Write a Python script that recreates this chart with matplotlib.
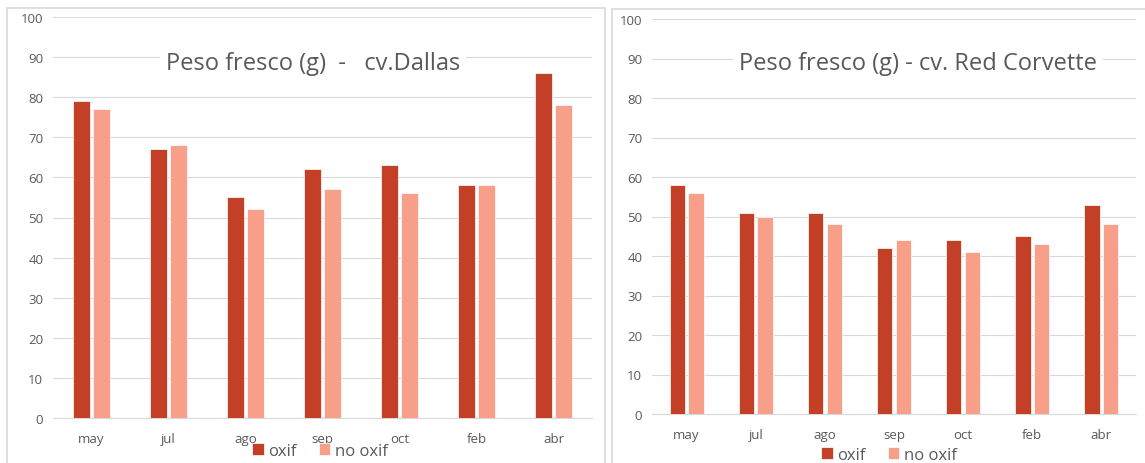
import matplotlib.pyplot as plt
import numpy as np
from matplotlib.patches import Rectangle

plt.rcParams['font.family'] = ['Open Sans', 'DejaVu Sans']

meses = ["may", "jul", "ago", "sep", "oct", "feb", "abr"]

# cv. Dallas
dallas_oxif = [79, 67, 55, 62, 63, 58, 86]
dallas_no_oxif = [77, 68, 52, 57, 56, 58, 78]

# cv. Red Corvette
corvette_oxif = [58, 51, 51, 42, 44, 45, 53]
corvette_no_oxif = [56, 50, 48, 44, 41, 43, 48]

c_oxif = "#C33F25"
c_no_oxif = "#F89F8A"
gris = "#595959"

fig = plt.figure(figsize=(11.45, 4.64), dpi=100)
W, H = 1145, 464


def px_box(x0, y0, x1, y1):
    # pixel box (top-left origin) to figure fraction
    return [x0 / W, (H - y1) / H, (x1 - x0) / W, (y1 - y0) / H]


# panel frames
for x0, y0, x1, y1 in [(7, 9, 605, 470), (612, 10, 1150, 470)]:
    b = px_box(x0, y0, x1, y1)
    fig.patches.append(Rectangle((b[0], b[1]), b[2], b[3], transform=fig.transFigure,
                                 fill=False, edgecolor="#D9D9D9", linewidth=1.2))


def grafico(box, oxif, no_oxif, titulo, title_xy, legend_xy):
    ax = fig.add_axes(px_box(*box))
    x = np.arange(len(meses))
    w = 0.22
    ax.bar(x - 0.135, oxif, w, color=c_oxif, edgecolor="white", linewidth=0.5, label="oxif", zorder=3)
    ax.bar(x + 0.135, no_oxif, w, color=c_no_oxif, edgecolor="white", linewidth=0.5, label="no oxif", zorder=3)
    ax.set_xlim(-0.5, len(meses) - 0.5)
    ax.set_ylim(0, 100)
    ax.set_yticks(range(0, 101, 10))
    ax.set_xticks(x)
    ax.set_xticklabels(meses)
    ax.grid(axis="y", color="#D9D9D9", linewidth=0.8, zorder=0)
    for s in ["top", "right", "left"]:
        ax.spines[s].set_visible(False)
    ax.spines["bottom"].set_color("#D9D9D9")
    ax.tick_params(length=0, labelsize=9.5, colors=gris, pad=10)
    ax.tick_params(axis="y", pad=7)
    ax.text(title_xy[0] / W, 1 - title_xy[1] / H, titulo, transform=fig.transFigure,
            ha="center", va="center", fontsize=17, color=gris, zorder=5,
            bbox=dict(facecolor="white", edgecolor="none", pad=4))
    ax.legend(loc="center", bbox_to_anchor=(legend_xy[0] / W, 1 - legend_xy[1] / H),
              bbox_transform=fig.transFigure, ncol=2, frameon=False, fontsize=12,
              handlelength=0.7, handleheight=0.7, handletextpad=0.3, columnspacing=1.3,
              labelcolor=gris)
    return ax


grafico((53, 18, 592, 419), dallas_oxif, dallas_no_oxif,
        "Peso fresco (g)  -   cv.Dallas", (313, 64), (320, 452))
grafico((652, 20, 1136, 415), corvette_oxif, corvette_no_oxif,
        "Peso fresco (g) - cv. Red Corvette", (918, 64), (889, 456))

fig.savefig("out.png", dpi=100)
